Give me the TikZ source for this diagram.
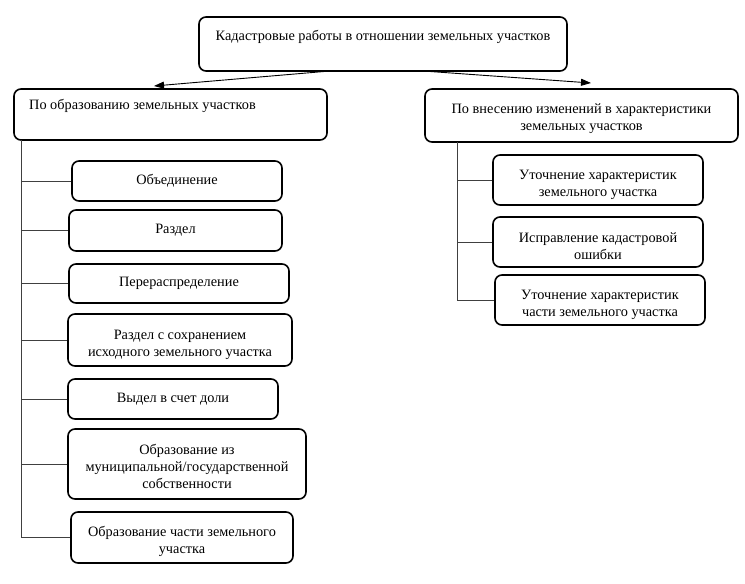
\documentclass[tikz,border=0pt]{standalone}
\usepackage{fontspec}
\setmainfont{Liberation Serif}
\usetikzlibrary{arrows.meta}
\tikzset{
  box/.style={draw=black, line width=1.6pt, rounded corners=7pt, align=center,
    inner sep=0pt, font=\fontsize{14.3}{17}\selectfont},
  lbl/.style={inner sep=0pt, align=center, font=\fontsize{14.3}{17}\selectfont},
  conn/.style={draw=black!75, line width=0.9pt},
  arr/.style={draw=black, line width=0.9pt, -{Triangle[length=10pt,width=7pt]}}
}
% name, left, top, right, bottom, text, first-line strut height
\newcommand{\bx}[7]{%
  \node[box, minimum width={#4-#2}, minimum height={#5-#3}] (#1) at ({(#2+#4)/2},{(#3+#5)/2}) {\rule{0pt}{#7pt}#6};}
\begin{document}
\begin{tikzpicture}[x=1pt,y=-1pt]
\useasboundingbox (0,0) rectangle (745,584);
% top
\bx{top}{199}{17}{567}{71}{}{0}
\node[lbl] (topT) at (383,37) {Кадастровые работы в отношении земельных участков};
% level 2
\bx{L}{14}{89}{327}{140}{}{0}
\node[lbl, anchor=west] (LT) at (29,106) {По образованию земельных участков};
\bx{R}{425}{89}{738}{142}{По внесению изменений в характеристики\\земельных участков}{16}
% left children
\bx{L1}{72}{161}{282}{201}{Объединение}{0}
\bx{L2}{69}{210}{282}{251}{Раздел}{0}
\bx{L3}{69}{264}{289}{303}{Перераспределение}{0}
\bx{L4}{68}{314}{292}{366}{Раздел с сохранением\\исходного земельного участка}{20}
\bx{L5}{68}{379}{278}{419}{Выдел в счет доли}{0}
\bx{L6}{68}{429}{306}{499}{Образование из\\муниципальной/государственной\\собственности}{16}
\bx{L7}{71}{512}{293}{563}{Образование части земельного\\участка}{18}
% right children
\bx{R1}{493}{155}{703}{205}{Уточнение характеристик\\земельного участка}{20}
\bx{R2}{493}{217}{703}{267}{Исправление кадастровой\\ошибки}{18}
\bx{R3}{495}{275}{705}{325}{Уточнение характеристик\\части земельного участка}{20}
% arrows from top
\coordinate (ta) at (330,71);
\coordinate (tb) at (423,71);
\coordinate (la) at (154,86);
\coordinate (rb) at (591,83);
\draw[arr] (ta) -- (la);
\draw[arr] (tb) -- (rb);
% left trunk
\coordinate (Lt) at (21,140);
\draw[conn] (Lt) -- (Lt |- L7.west);
\foreach \n in {L1,L2,L3,L4,L5,L6,L7} \draw[conn] (Lt |- \n.west) -- (\n.west);
% right trunk
\coordinate (Rt) at (457,142);
\draw[conn] (Rt) -- (Rt |- R3.west);
\foreach \n in {R1,R2,R3} \draw[conn] (Rt |- \n.west) -- (\n.west);
\end{tikzpicture}
\end{document}
